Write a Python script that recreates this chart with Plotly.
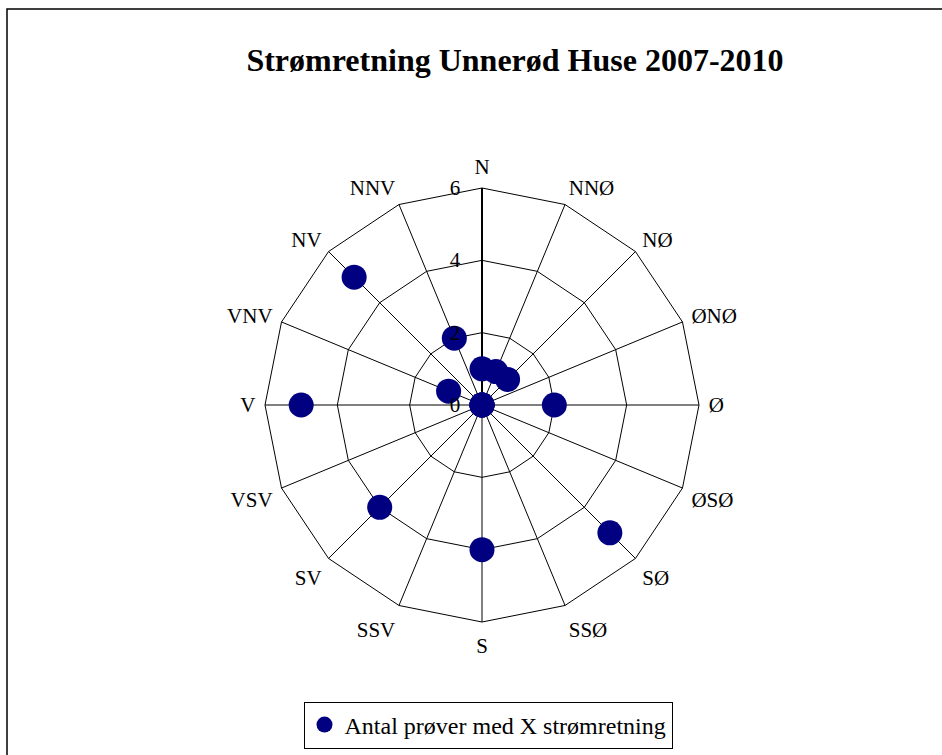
import plotly.graph_objects as go

directions = ["N", "NNØ", "NØ", "ØNØ", "Ø", "ØSØ", "SØ", "SSØ",
              "S", "SSV", "SV", "VSV", "V", "VNV", "NV", "NNV"]
counts = [1, 1, 1, 0, 2, 0, 5, 0, 4, 0, 4, 0, 5, 1, 5, 2]
radial_ticks = [0, 2, 4, 6]
series_name = "Antal prøver med X strømretning"
title_text = "Strømretning Unnerød Huse 2007-2010"

W, H = 942, 755
cx, cy, R = 482, 405, 217
dom = dict(x=[(cx - R) / W, (cx + R) / W], y=[(H - cy - R) / H, (H - cy + R) / H])

fig = go.Figure()
# grid-only trace on the polygon subplot (no visible marks)
fig.add_trace(go.Scatterpolar(
    r=counts, theta=directions, mode="markers", subplot="polar",
    marker=dict(size=1, opacity=0), showlegend=False, hoverinfo="skip",
))
fig.add_trace(go.Scatterpolar(
    r=counts, theta=directions, mode="markers", name=series_name,
    subplot="polar2",
    marker=dict(size=25, color="#000080"),
    cliponaxis=False,
    showlegend=True,
))

fig.update_layout(
    width=W, height=H,
    margin=dict(l=0, r=0, t=0, b=0),
    paper_bgcolor="white",
    font=dict(family="Liberation Serif", size=21, color="black"),
    title=dict(text="<b>" + title_text + "</b>", x=515 / W, xanchor="center",
               y=1 - 60 / H, yanchor="middle",
               font=dict(family="Liberation Serif", size=32, color="black")),
    polar=dict(
        domain=dom,
        bgcolor="white",
        gridshape="linear",
        angularaxis=dict(
            direction="clockwise", rotation=90,
            categoryorder="array", categoryarray=directions,
            showline=True, linecolor="black", linewidth=1,
            showgrid=True, gridcolor="black", gridwidth=1,
            ticks="outside", ticklen=5, tickcolor="rgba(0,0,0,0)",
            tickfont=dict(family="Liberation Serif", size=21, color="black"),
        ),
        radialaxis=dict(
            range=[0, 6], tickvals=radial_ticks, angle=90,
            showline=True, linecolor="black", linewidth=2,
            showgrid=True, gridcolor="black", gridwidth=1,
            ticks="", showticklabels=False,
        ),
    ),
    polar2=dict(
        domain=dom,
        bgcolor="rgba(0,0,0,0)",
        gridshape="circular",
        angularaxis=dict(
            direction="clockwise", rotation=90,
            categoryorder="array", categoryarray=directions,
            showline=False, showgrid=False, showticklabels=False, ticks="",
        ),
        radialaxis=dict(
            range=[0, 6], tickvals=radial_ticks, angle=90, tickangle=90,
            side="counterclockwise", layer="above traces",
            showline=False, showgrid=False,
            ticks="outside", ticklen=14, tickcolor="rgba(0,0,0,0)",
            tickfont=dict(family="Liberation Serif", size=21, color="black"),
        ),
    ),
    legend=dict(
        orientation="h", x=488 / W, xanchor="center", y=1 - 725 / H, yanchor="middle",
        bordercolor="black", borderwidth=1, bgcolor="white",
        font=dict(family="Liberation Serif", size=24, color="black"),
        itemsizing="trace",
    ),
    shapes=[dict(type="rect", xref="paper", yref="paper",
                 x0=7 / W, x1=1.01, y0=-0.02, y1=1 - 9 / H,
                 line=dict(color="black", width=1.5), layer="below")],
)

fig.write_html("out.html", config={"displayModeBar": False},
               post_script="document.body.style.margin='0';document.body.style.overflow='hidden';")
